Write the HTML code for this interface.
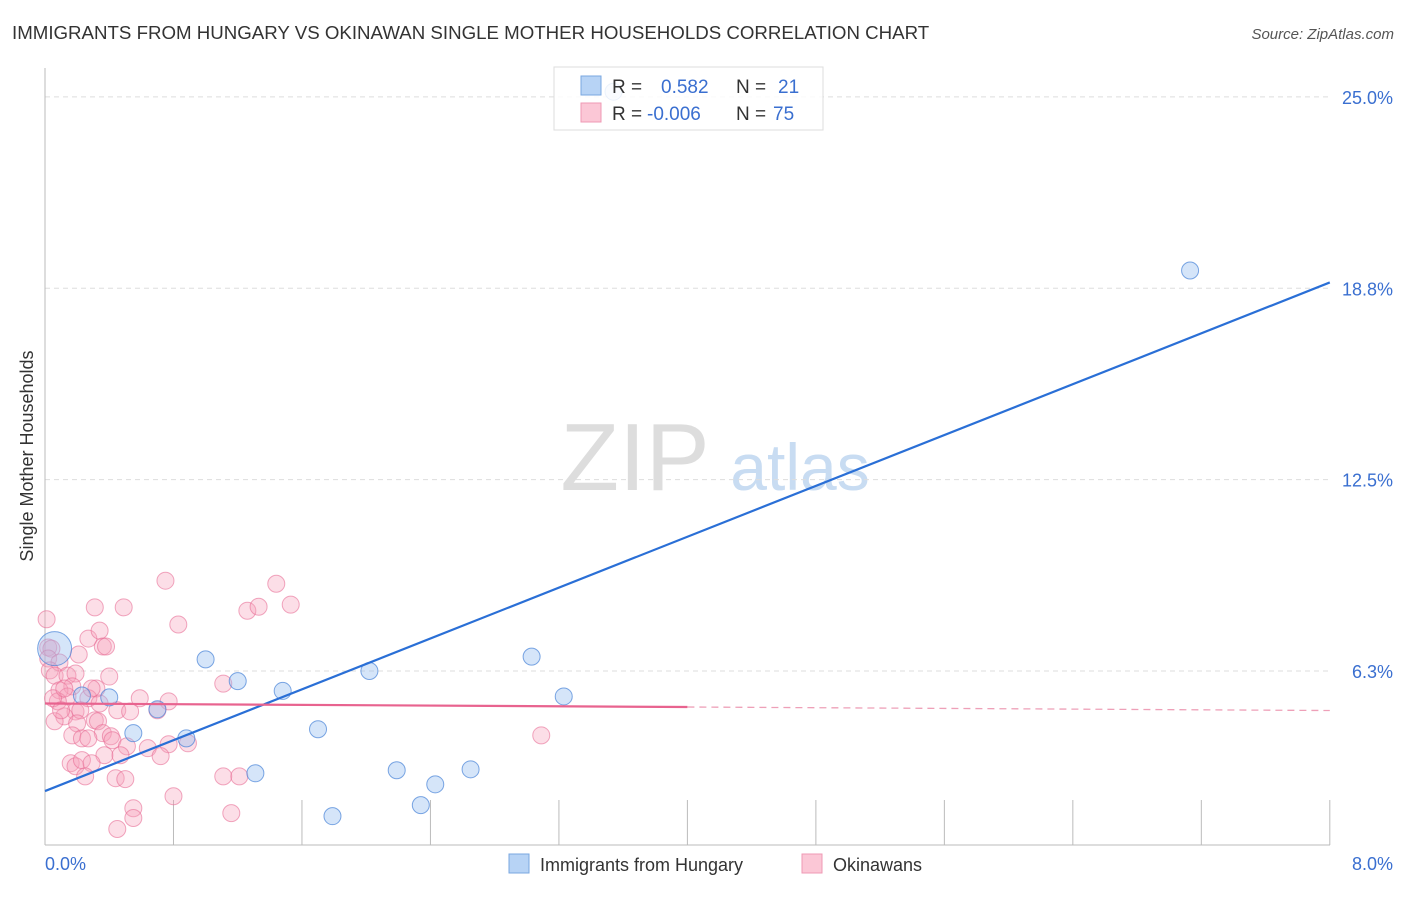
<!DOCTYPE html>
<html><head><meta charset="utf-8"><style>
body{margin:0;background:#fff;font-family:"Liberation Sans",sans-serif}
svg text{font-family:"Liberation Sans",sans-serif}
</style></head><body>
<svg id="chart" width="1406" height="892" viewBox="0 0 1406 892">
<text x="12" y="39" font-size="18.7" fill="#333">IMMIGRANTS FROM HUNGARY VS OKINAWAN SINGLE MOTHER HOUSEHOLDS CORRELATION CHART</text>
<text x="1394" y="39" font-size="15" fill="#555" font-style="italic" text-anchor="end">Source: ZipAtlas.com</text>
<g>
<text x="635" y="490" font-size="96" fill="#ddd" font-family="Liberation Serif,serif" text-anchor="middle">ZIP</text>
<text x="800" y="490" font-size="66" fill="#c8dcf2" text-anchor="middle">atlas</text>
</g>
<g id="grid"></g>
<line x1="45" y1="68" x2="45" y2="845" stroke="#bbb"/>
<line x1="45" y1="845" x2="1330" y2="845" stroke="#bbb"/>
<g id="xticks"></g>
<text x="33" y="456" font-size="18" fill="#333" text-anchor="middle" transform="rotate(-90 33 456)">Single Mother Households</text>
<text x="45" y="870" font-size="18" fill="#3a6fd0">0.0%</text>
<text x="1393" y="870" font-size="18" fill="#3a6fd0" text-anchor="end">8.0%</text>
<g id="pink"></g><g id="blue"></g><g id="lines"></g>
<g>
<rect x="554" y="67" width="269" height="63" fill="rgba(255,255,255,0.85)" stroke="#ddd"/>
<rect x="581" y="76" width="20" height="19" fill="#b7d3f5" stroke="#7aa7e0"/>
<rect x="581" y="103" width="20" height="19" fill="#fbc7d6" stroke="#ef9ab4"/>
<text x="612" y="93" font-size="19" fill="#333">R = <tspan fill="#3a6fd0" x="661">0.582</tspan><tspan x="736" fill="#333">N = </tspan><tspan fill="#3a6fd0" x="778">21</tspan></text>
<text x="612" y="120" font-size="19" fill="#333">R = <tspan fill="#3a6fd0" x="647">-0.006</tspan><tspan x="736" fill="#333">N = </tspan><tspan fill="#3a6fd0" x="773">75</tspan></text>
</g>
<g>
<rect x="509" y="854" width="20" height="19" fill="#b7d3f5" stroke="#7aa7e0"/>
<text x="540" y="871" font-size="18" fill="#333">Immigrants from Hungary</text>
<rect x="802" y="854" width="20" height="19" fill="#fbc7d6" stroke="#ef9ab4"/>
<text x="833" y="871" font-size="18" fill="#333">Okinawans</text>
</g>
</svg>
<script>
const yTicks=[6.25,12.5,18.75,25];
const yTickLabels=["6.3%","12.5%","18.8%","25.0%"];
const xTicks=[0,0.8,1.6,2.4,3.2,4.0,4.8,5.6,6.4,7.2,8.0];
const blueX=[0.06,3.54,7.13,1.00,1.20,1.48,2.02,3.03,3.23,0.40,0.23,0.70,0.55,0.88,1.70,1.31,2.19,2.43,2.65,2.34,1.79];
const blueY=[6.98,25.17,19.33,6.63,5.92,5.60,6.25,6.72,5.42,5.39,5.45,5.00,4.22,4.05,4.35,2.91,3.01,2.55,3.04,1.87,1.51];
const pinkX=[0.75,0.01,0.31,0.49,0.83,1.26,1.33,1.44,1.53,0.27,0.34,0.36,0.38,0.02,0.04,0.21,0.02,0.09,0.03,0.06,0.14,0.19,0.40,0.17,0.32,1.11,0.09,0.14,0.08,0.27,0.34,0.05,0.77,0.70,0.45,0.19,0.22,0.53,0.12,0.31,0.33,0.06,0.20,0.17,0.36,0.41,0.23,0.27,0.42,0.89,0.77,0.51,0.64,0.16,0.19,0.37,0.23,0.72,0.29,0.47,0.44,0.50,1.11,1.21,0.25,0.80,0.55,1.16,0.55,0.45,3.09,0.12,0.29,0.10,0.59];
const pinkY=[9.20,7.94,8.33,8.33,7.77,8.22,8.35,9.10,8.42,7.31,7.57,7.05,7.05,7.02,6.98,6.79,6.66,6.53,6.27,6.10,6.10,6.17,6.07,5.75,5.68,5.84,5.62,5.42,5.26,5.36,5.19,5.36,5.26,4.97,4.97,4.93,4.97,4.93,4.77,4.64,4.61,4.61,4.54,4.15,4.22,4.12,4.05,4.05,3.99,3.89,3.86,3.79,3.73,3.24,3.14,3.50,3.34,3.47,3.24,3.50,2.75,2.72,2.81,2.81,2.81,2.16,1.77,1.61,1.45,1.09,4.15,5.68,5.68,4.97,5.36];
const blueLine=[2.33,18.94];
const pinkLine=[5.19,4.96];
const pinkSolidEnd=4.0;
const NS="http://www.w3.org/2000/svg";
const sx=v=>45+v*160.6;
const sy=v=>862.4-v*30.62;
function mk(tag,attrs,parent){const e=document.createElementNS(NS,tag);for(const k in attrs)e.setAttribute(k,attrs[k]);document.getElementById(parent).appendChild(e);return e;}
yTicks.forEach((t,i)=>{
 const l=mk('line',{x1:45,x2:1330,y1:sy(t),y2:sy(t),stroke:'#ddd','stroke-dasharray':'5,4'},'grid');
 
 
 const tx=mk('text',{x:1393,y:sy(t)+7,'font-size':18,fill:'#3a6fd0','text-anchor':'end'},'grid');
 tx.textContent=yTickLabels[i];
 
 
});
xTicks.forEach(t=>{
 const l=mk('line',{x1:sx(t),x2:sx(t),y1:800,y2:845,stroke:'#bbb'},'xticks');
 
 
});
pinkX.forEach((x,i)=>{
 const c=mk('circle',{cx:sx(x),cy:sy(pinkY[i]),r:8.5,fill:'rgba(246,160,186,0.35)',stroke:'rgba(232,110,150,0.6)','stroke-width':1},'pink');
 
 
});
blueX.forEach((x,i)=>{
 const c=mk('circle',{cx:sx(x),cy:sy(blueY[i]),r:i===0?17:8.5,fill:'rgba(150,190,240,0.4)',stroke:'rgba(70,130,215,0.7)','stroke-width':1},'blue');
 
 
});
const bl=mk('line',{x1:sx(0),y1:sy(blueLine[0]),x2:sx(8),y2:sy(blueLine[1]),stroke:'#2a6fd6','stroke-width':2.2},'lines');


const pAt=x=>pinkLine[0]+(pinkLine[1]-pinkLine[0])*x/8;
const pl=mk('line',{x1:sx(0),y1:sy(pAt(0)),x2:sx(pinkSolidEnd),y2:sy(pAt(pinkSolidEnd)),stroke:'#e8638f','stroke-width':2.2},'lines');


const pd=mk('line',{x1:sx(pinkSolidEnd),y1:sy(pAt(pinkSolidEnd)),x2:sx(8),y2:sy(pAt(8)),stroke:'#eea0b8','stroke-width':1.3,'stroke-dasharray':'7,5'},'lines');


</script>
</body></html>
